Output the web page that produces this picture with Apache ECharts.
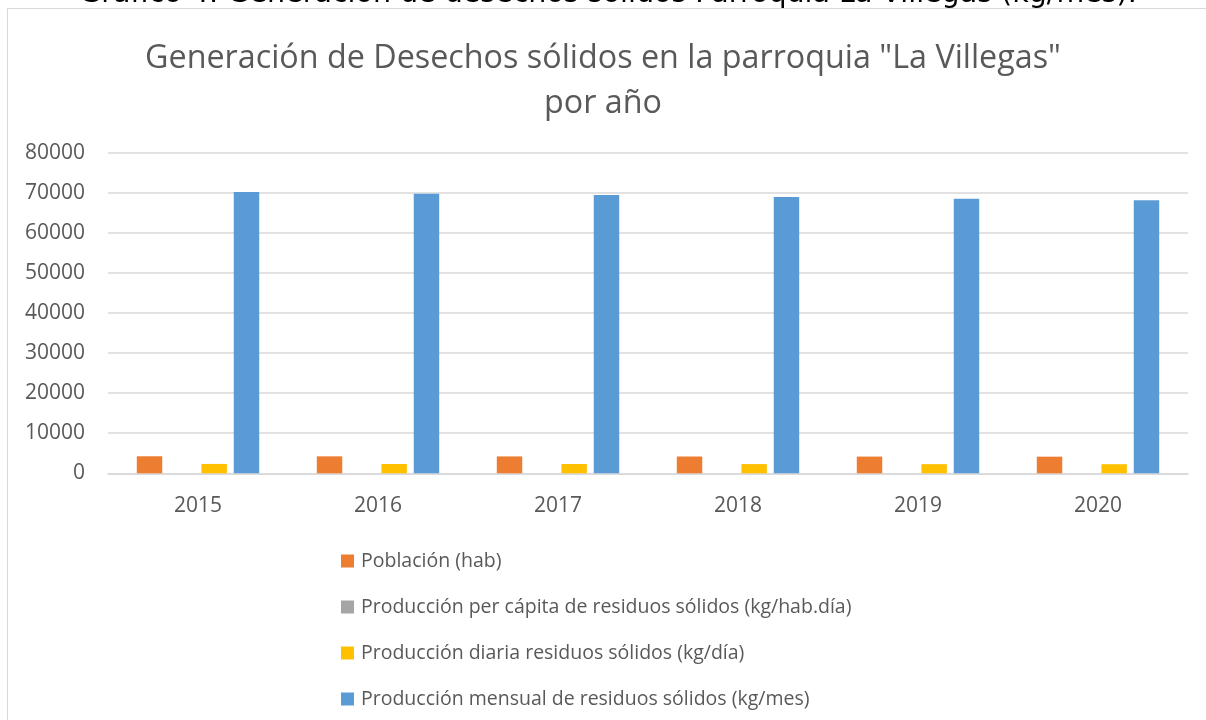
<!DOCTYPE html>
<html><head><meta charset="utf-8">
<script src="https://cdn.jsdelivr.net/npm/echarts@6/dist/echarts.min.js"></script>
<style>html,body{margin:0;padding:0;background:#fff}#c{width:1206px;height:720px}</style>
</head><body><div id="c"></div>
<script>
const years = ['2015','2016','2017','2018','2019','2020'];
const poblacion = [4250, 4230, 4210, 4190, 4170, 4150];
const perCapita = [0.55, 0.55, 0.55, 0.55, 0.55, 0.55];
const diaria = [2340, 2325, 2313, 2297, 2283, 2270];
const mensual = [70200, 69750, 69400, 68950, 68500, 68100];
const seriesNames = ['Población (hab)', 'Producción per cápita de residuos sólidos (kg/hab.día)', 'Producción diaria residuos sólidos (kg/día)', 'Producción mensual de residuos sólidos (kg/mes)'];
const colors = ['#ED7D31', '#A5A5A5', '#FFC000', '#5B9BD5'];
const yTicks = [0, 10000, 20000, 30000, 40000, 50000, 60000, 70000, 80000];

const chart = echarts.init(document.getElementById('c'));
const font = "'Open Sans', sans-serif";
const values = [poblacion, perCapita, diaria, mensual];
chart.setOption({
  animation: false,
  color: colors,
  title: {
    text: 'Generación de Desechos sólidos en la parroquia "La Villegas"\npor año',
    left: 'center', top: 31,
    textStyle: { fontFamily: font, fontSize: 32.3, fontWeight: 'normal', color: '#595959', lineHeight: 45 }
  },
  graphic: [
    { type: 'rect', shape: { x: 7.5, y: 8.5, width: 1300, height: 800 }, style: { fill: 'none', stroke: '#d9d9d9', lineWidth: 1 }, z: -1 },
    { type: 'text', x: 608, y: -5, style: { text: 'Gráfico 4: Generación de desechos sólidos Parroquia La Villegas (kg/mes).', align: 'center', verticalAlign: 'middle', fontFamily: 'DejaVu Sans', fontSize: 28.5, fill: '#000' } }
  ],
  grid: { left: 108, right: 18, top: 152.6, bottom: 246.7, containLabel: false },
  legend: {
    orient: 'vertical', left: 341, top: 551, padding: 0,
    itemWidth: 13, itemHeight: 13, itemGap: 26, icon: 'rect',
    textStyle: { fontFamily: font, fontSize: 19.5, color: '#595959', padding: [0,0,0,2] },
    data: seriesNames
  },
  xAxis: {
    type: 'category', data: years,
    axisLine: { lineStyle: { color: '#d9d9d9', width: 1.5 } },
    axisTick: { show: false },
    axisLabel: { fontFamily: font, fontSize: 21, color: '#595959', margin: 22 }
  },
  yAxis: {
    type: 'value', min: yTicks[0], max: yTicks[yTicks.length-1], interval: 10000,
    axisLine: { show: false }, axisTick: { show: false },
    axisLabel: { fontFamily: font, fontSize: 21, color: '#595959', margin: 23, formatter: v => String(v) },
    splitLine: { lineStyle: { color: '#d9d9d9', width: 1.5 } }
  },
  series: seriesNames.map((n, i) => ({
    name: n, type: 'bar', data: values[i],
    barGap: '27%', barCategoryGap: '32%',
    itemStyle: { color: colors[i] }
  }))
});
</script></body></html>
